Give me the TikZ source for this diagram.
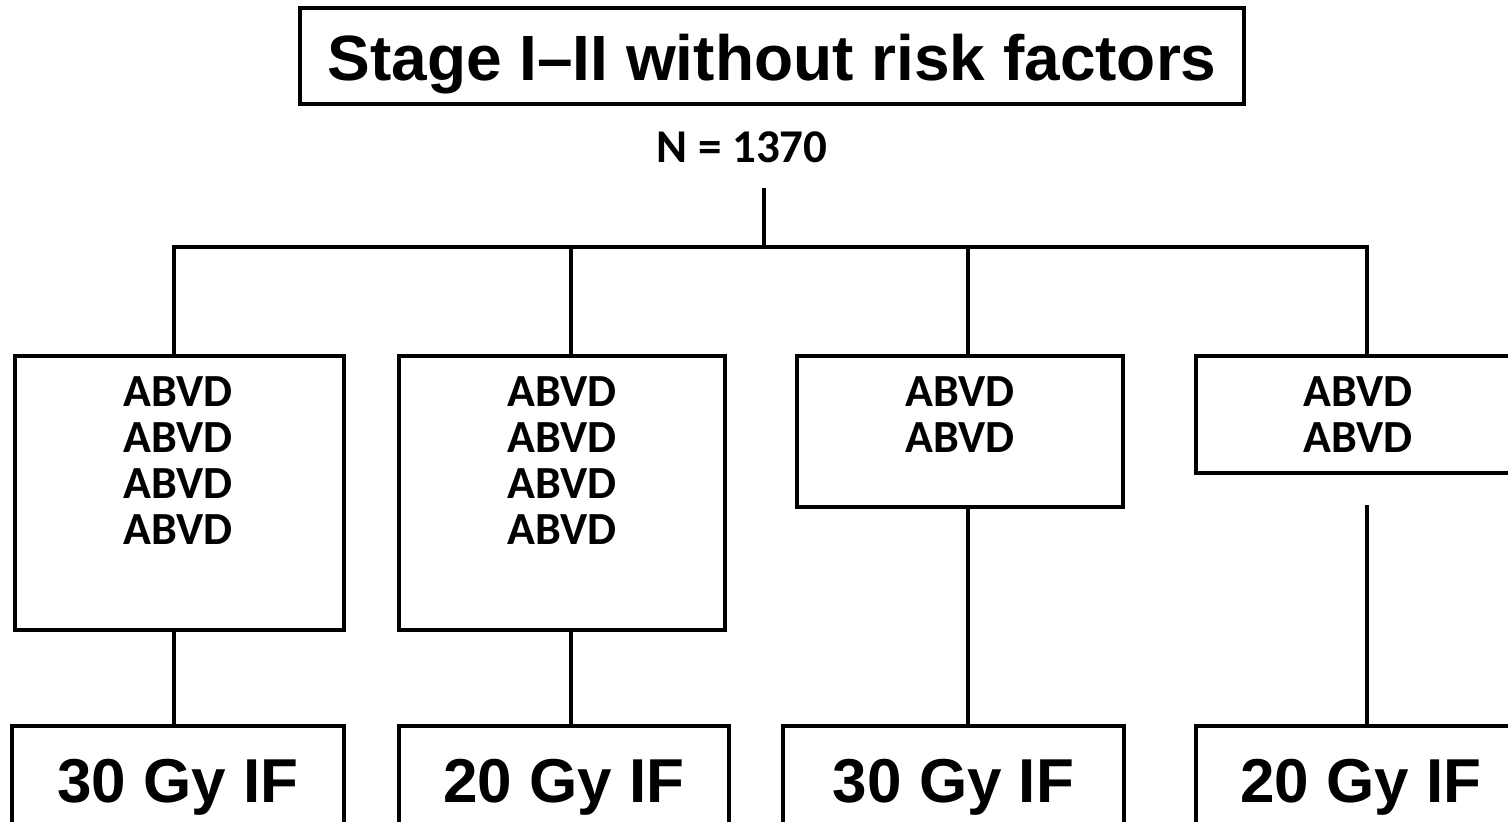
\documentclass[tikz,border=0pt]{standalone}
\usepackage{fontspec}
\setmainfont{Liberation Sans}
\newfontfamily\calfont{Carlito}
\begin{document}
\begin{tikzpicture}[x=1pt,y=-1pt,
  box/.style={draw=black,line width=4.5pt,rectangle,inner sep=0pt,fill=white},
  conn/.style={draw=black,line width=4pt},
  bigtxt/.style={font=\fontsize{62}{62}\selectfont\bfseries},
  titletxt/.style={font=\fontsize{64}{64}\selectfont\bfseries},
  abvd/.style={font=\calfont\fontsize{46}{46}\selectfont\bfseries,align=center,inner sep=0pt},
  ntxt/.style={font=\calfont\fontsize{47}{47}\selectfont\bfseries,inner sep=0pt}]
\useasboundingbox (0,0) rectangle (1508,822);
\clip (0,0) rectangle (1508,822);
\fill[white] (0,0) rectangle (1508,822);
% title
\node[box,line width=4pt,titletxt,minimum width=944pt,minimum height=96pt,text height=48pt,text depth=0pt] (title) at (772,56) {Stage I–II without risk factors};
\node[ntxt,anchor=base] (n) at (742,162) {N = 1370};
% connector coordinates
\coordinate (ntop) at (764,188);
\coordinate (j0) at (764,247);
\coordinate (j1) at (174,247);
\coordinate (j2) at (571,247);
\coordinate (j3) at (968,247);
\coordinate (j4) at (1367,247);
\coordinate (f4) at (1367,505);
% ABVD boxes
\node[box,minimum width=329pt,minimum height=274pt] (b1) at (179.5,493) {};
\node[box,minimum width=326pt,minimum height=274pt] (b2) at (562,493) {};
\node[box,minimum width=326pt,minimum height=151pt] (b3) at (960,431.5) {};
\node[box,minimum width=326pt,minimum height=117pt] (b4) at (1359,414.5) {};
\node[abvd,anchor=north] (t1) at (178,376) {ABVD\\ABVD\\ABVD\\ABVD};
\node[abvd,anchor=north] (t2) at (562,376) {ABVD\\ABVD\\ABVD\\ABVD};
\node[abvd,anchor=north] (t3) at (960,376) {ABVD\\ABVD};
\node[abvd,anchor=north] (t4) at (1358,376) {ABVD\\ABVD};
% RT boxes
\node[box,bigtxt,minimum width=332pt,minimum height=152pt,text height=0pt,text depth=0pt] (r1) at (178,802) {30 Gy IF};
\node[box,bigtxt,minimum width=330pt,minimum height=152pt,text height=0pt,text depth=0pt] (r2) at (564,802) {20 Gy IF};
\node[box,bigtxt,minimum width=341pt,minimum height=152pt,text height=0pt,text depth=0pt] (r3) at (953.5,802) {30 Gy IF};
\node[box,bigtxt,minimum width=330pt,minimum height=152pt,text height=0pt,text depth=0pt] (r4) at (1361,802) {20 Gy IF};
% connectors
\draw[conn] (ntop) -- (j0);
\draw[conn] ([xshift=-2pt]j1) -- ([xshift=2pt]j4);
\draw[conn] (j1) -- (j1 |- b1.north);
\draw[conn] (j2) -- (j2 |- b2.north);
\draw[conn] (j3) -- (j3 |- b3.north);
\draw[conn] (j4) -- (j4 |- b4.north);
\draw[conn] (j1 |- b1.south) -- (j1 |- r1.north);
\draw[conn] (j2 |- b2.south) -- (j2 |- r2.north);
\draw[conn] (j3 |- b3.south) -- (j3 |- r3.north);
\draw[conn] (f4) -- (j4 |- r4.north);
\end{tikzpicture}
\end{document}
